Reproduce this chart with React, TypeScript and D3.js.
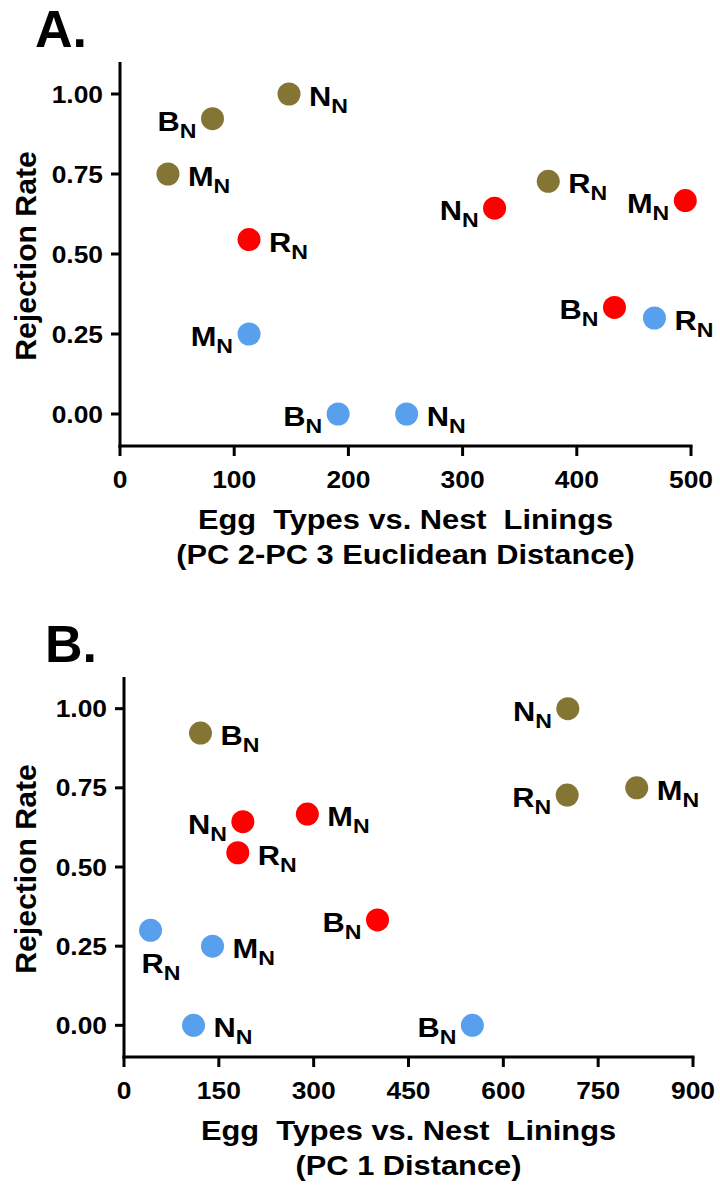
import React from 'react';
import * as d3 from 'd3';

// colours of the three egg groups
const groupColor: Record<string, string> = {
  olive: '#857535',
  red: '#ff0000',
  blue: '#58a0ee',
};

// Panel A: PC 2-PC 3 Euclidean distance
const aLetters = ['B', 'N', 'M', 'R', 'R', 'N', 'M', 'B', 'M', 'B', 'N', 'R'];
const aGroups = ['olive', 'olive', 'olive', 'olive', 'red', 'red', 'red', 'red', 'blue', 'blue', 'blue', 'blue'];
const aDist = [81, 148, 42, 375, 113, 328, 495, 433, 113, 191, 251, 468];
const aRate = [0.923, 1.0, 0.75, 0.727, 0.545, 0.643, 0.667, 0.333, 0.25, 0, 0, 0.3];
const aSide = ['l', 'r', 'r', 'r', 'r', 'l', 'l', 'l', 'l', 'l', 'r', 'r'];
const aXTicks = [0, 100, 200, 300, 400, 500];

// Panel B: PC 1 distance
const bLetters = ['B', 'N', 'R', 'M', 'N', 'M', 'R', 'B', 'R', 'M', 'N', 'B'];
const bGroups = ['olive', 'olive', 'olive', 'olive', 'red', 'red', 'red', 'red', 'blue', 'blue', 'blue', 'blue'];
const bDist = [121, 702, 701, 811, 188, 290, 180, 401, 42, 140, 110, 551];
const bRate = [0.923, 1.0, 0.727, 0.75, 0.643, 0.667, 0.545, 0.333, 0.3, 0.25, 0, 0];
const bSide = ['r', 'l', 'l', 'r', 'l', 'r', 'r', 'l', 'b', 'r', 'r', 'l'];
const bXTicks = [0, 150, 300, 450, 600, 750, 900];

const yTicks = [0, 0.25, 0.5, 0.75, 1.0];

const FONT = '"Liberation Sans", Arial, Helvetica, sans-serif';
const SX = 1.1; // the figure is a little wider than the type

function Panel({ letter, letterX, left, right, top, bottom, xMax, xTicks, letters, groups, dist, rate, side, title2 }) {
  const x = d3.scaleLinear().domain([0, xMax]).range([left, right]);
  const y = d3.scaleLinear().domain([-0.1, 1.1]).range([bottom, top]);
  const midY = (top + bottom) / 2;
  const midX = (left + right) / 2;

  return (
    <g fontFamily={FONT} fontWeight="bold" fill="#000">
      <text x={letterX} y={top - 15} fontSize={52}>{letter}</text>

      {/* axes */}
      <line x1={left} x2={left} y1={top} y2={bottom + 1.5} stroke="#000" strokeWidth={3} />
      <line x1={left - 1.5} x2={right + 1.5} y1={bottom} y2={bottom} stroke="#000" strokeWidth={3} />

      {yTicks.map(t => (
        <g key={'y' + t}>
          <line x1={left - 9} x2={left} y1={y(t)} y2={y(t)} stroke="#000" strokeWidth={3} />
          <text transform={`translate(${left - 17},${y(t) + 8.5}) scale(${SX},1)`} textAnchor="end" fontSize={24}>
            {t.toFixed(2)}
          </text>
        </g>
      ))}
      {xTicks.map(t => (
        <g key={'x' + t}>
          <line x1={x(t)} x2={x(t)} y1={bottom} y2={bottom + 10} stroke="#000" strokeWidth={3} />
          <text transform={`translate(${x(t)},${bottom + 42}) scale(${SX},1)`} textAnchor="middle" fontSize={24}>
            {t}
          </text>
        </g>
      ))}

      <text transform={`translate(36,${midY + 2}) rotate(-90) scale(1.04,1)`} textAnchor="middle" fontSize={29}>
        Rejection Rate
      </text>
      <text transform={`translate(${midX},${bottom + 83}) scale(${SX},1)`} textAnchor="middle" fontSize={28} style={{ whiteSpace: 'pre' }}>
        {'Egg  Types vs. Nest  Linings'}
      </text>
      <text transform={`translate(${midX},${bottom + 118}) scale(${SX},1)`} textAnchor="middle" fontSize={28}>
        {title2}
      </text>

      {dist.map((d, i) => {
        const cx = x(d);
        const cy = y(rate[i]);
        const s = side[i];
        let lx = cx + 20, ly = cy + 12, anchor = 'start';
        if (s === 'l') { lx = cx - 16; anchor = 'end'; }
        if (s === 'b') { lx = cx - 9; ly = cy + 43; }
        return (
          <g key={i}>
            <circle cx={cx} cy={cy} r={11.5} fill={groupColor[groups[i]]} />
            <text transform={`translate(${lx},${ly}) scale(${SX},1)`} textAnchor={anchor} fontSize={28}>
              {letters[i]}
              <tspan fontSize={21} dy={7}>N</tspan>
            </text>
          </g>
        );
      })}
    </g>
  );
}

export default function App() {
  return (
    <svg width={720} height={1186} style={{ position: 'absolute', left: 0, top: 0, background: '#fff' }}>
      <rect width={720} height={1186} fill="#fff" />
      <Panel letter="A." letterX={35} left={120} right={691} top={62} bottom={446} xMax={500} xTicks={aXTicks}
        letters={aLetters} groups={aGroups} dist={aDist} rate={aRate} side={aSide}
        title2="(PC 2-PC 3 Euclidean Distance)" />
      <Panel letter="B." letterX={45} left={124} right={693} top={677} bottom={1057} xMax={900} xTicks={bXTicks}
        letters={bLetters} groups={bGroups} dist={bDist} rate={bRate} side={bSide}
        title2="(PC 1 Distance)" />
    </svg>
  );
}
